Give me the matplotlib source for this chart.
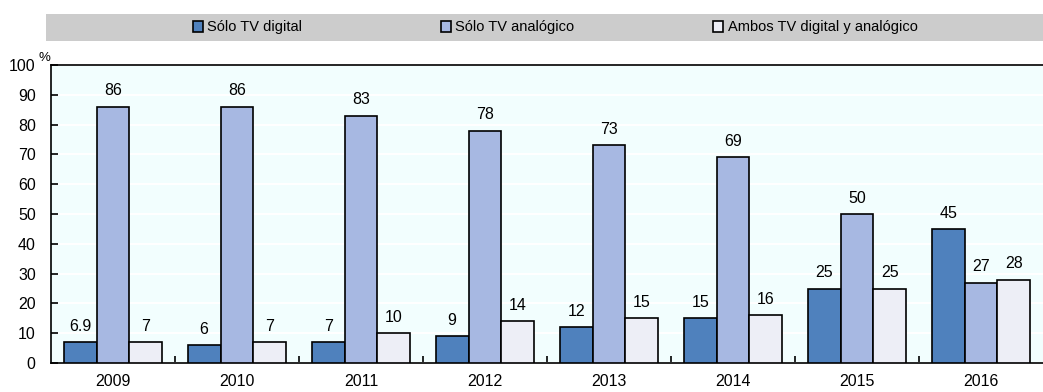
import matplotlib.pyplot as plt
import numpy as np
from matplotlib.patches import Rectangle
from matplotlib.ticker import FixedLocator

plt.rcParams['font.family'] = ['Liberation Sans', 'DejaVu Sans']

years = ['2009', '2010', '2011', '2012', '2013', '2014', '2015', '2016']
solo_digital = [6.9, 6, 7, 9, 12, 15, 25, 45]
solo_analogico = [86, 86, 83, 78, 73, 69, 50, 27]
ambos = [7, 7, 10, 14, 15, 16, 25, 28]
labels_digital = ['6.9', '6', '7', '9', '12', '15', '25', '45']
labels_analogico = ['86', '86', '83', '78', '73', '69', '50', '27']
labels_ambos = ['7', '7', '10', '14', '15', '16', '25', '28']

series = [
    ('Sólo TV digital', solo_digital, labels_digital, '#4F81BD'),
    ('Sólo TV analógico', solo_analogico, labels_analogico, '#A7B8E2'),
    ('Ambos TV digital y analógico', ambos, labels_ambos, '#EDEEF6'),
]

fig = plt.figure(figsize=(10.43, 3.92), dpi=100)
ax = fig.add_axes([51 / 1043, 1 - 363 / 392, 1 - 51 / 1043, (363 - 65) / 392])
ax.set_facecolor('#F2FEFE')

x = np.arange(len(years))
w = 0.265
handles = []
for i, (name, vals, labs, col) in enumerate(series):
    bars = ax.bar(x + (i - 1) * w, vals, w, color=col, edgecolor='black',
                  linewidth=1.2, label=name, zorder=3)
    handles.append(bars)
    for b, lab in zip(bars, labs):
        ax.annotate(lab, (b.get_x() + b.get_width() / 2, b.get_height()),
                    xytext=(0, 6), textcoords='offset points',
                    ha='center', va='bottom', fontsize=11.5)

ax.set_xlim(-0.5, len(years) - 0.5)
ax.set_ylim(0, 100)
ax.set_yticks(range(0, 101, 10))
ax.set_xticks(x)
ax.set_xticklabels(years, fontsize=11.5)
ax.xaxis.set_minor_locator(FixedLocator(x[:-1] + 0.5))
ax.tick_params(axis='x', which='major', length=0, pad=8)
ax.tick_params(axis='x', which='minor', direction='in', length=5, width=1.2)
ax.tick_params(axis='y', direction='in', length=5, width=1.2, labelsize=11.5, pad=11)
ax.yaxis.grid(True, color='white', linewidth=1.5, zorder=0)
ax.set_axisbelow(True)

for s in ['left', 'bottom', 'top']:
    ax.spines[s].set_linewidth(1.2)
    ax.spines[s].set_color('black')
ax.spines['right'].set_visible(False)

fig.text(44 / 1043, 1 - 58 / 392, '%', fontsize=9.5, ha='center', va='center')

# gray band behind the legend
fig.patches.append(Rectangle((46 / 1043, 1 - 41 / 392), 1 - 46 / 1043, 27 / 392,
                             transform=fig.transFigure, facecolor='#CCCCCC',
                             edgecolor='none', zorder=0))
fig.legend(handles=handles, loc='center', bbox_to_anchor=(555 / 1043, 1 - 27.5 / 392),
           ncol=3, frameon=False, fontsize=10.5, handlelength=0.7, handleheight=0.7,
           handletextpad=0.3, columnspacing=9.5)

fig.savefig('out.png', dpi=100)
